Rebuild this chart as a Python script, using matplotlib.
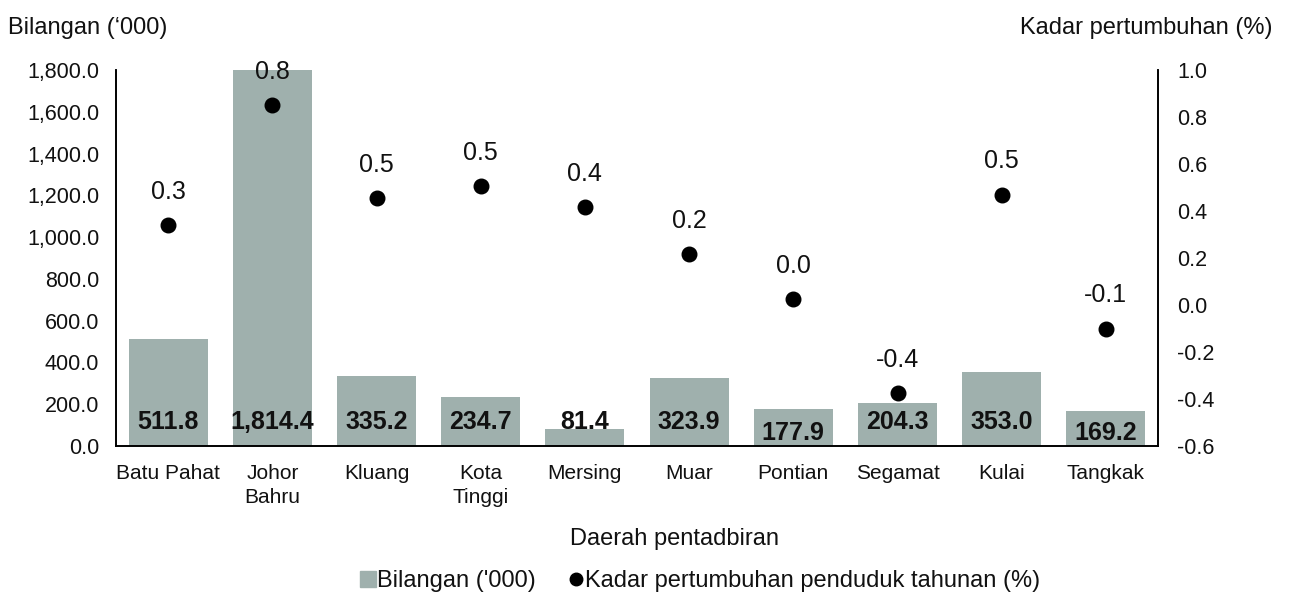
import matplotlib
matplotlib.use("Agg")
import matplotlib.pyplot as plt
from matplotlib.lines import Line2D

plt.rcParams['font.family'] = ['Liberation Sans', 'DejaVu Sans']

districts = ["Batu Pahat", "Johor\nBahru", "Kluang", "Kota\nTinggi", "Mersing",
             "Muar", "Pontian", "Segamat", "Kulai", "Tangkak"]
population = [511.8, 1814.4, 335.2, 234.7, 81.4, 323.9, 177.9, 204.3, 353.0, 169.2]
growth = [0.34, 0.85, 0.455, 0.505, 0.415, 0.215, 0.025, -0.375, 0.47, -0.10]
growth_labels = ["0.3", "0.8", "0.5", "0.5", "0.4", "0.2", "0.0", "-0.4", "0.5", "-0.1"]
left_ticks = [0, 200, 400, 600, 800, 1000, 1200, 1400, 1600, 1800]
right_ticks = [-0.6, -0.4, -0.2, 0.0, 0.2, 0.4, 0.6, 0.8, 1.0]

bar_color = "#9fb0ad"
text_color = "#111111"

fig = plt.figure(figsize=(12.9, 5.99), dpi=100)
ax = fig.add_axes([116/1290, 1-446/599, (1158-116)/1290, (446-70)/599])
ax2 = ax.twinx()

x = list(range(len(districts)))
ax.bar(x, population, width=0.76, color=bar_color, zorder=1)
ax.set_ylim(0, 1800)
ax.set_xlim(-0.5, len(districts) - 0.5)
ax.set_yticks(left_ticks)
ax.set_yticklabels([f"{v:,.1f}" for v in left_ticks])
ax.set_xticks(x)
ax.set_xticklabels(districts, linespacing=1.3)
ax.tick_params(axis='y', length=0, pad=12, labelsize=15.5, labelcolor=text_color)
ax.tick_params(axis='x', length=0, pad=13, labelsize=15, labelcolor=text_color)

for i, v in enumerate(population):
    ypos = 62 if districts[i] in ("Pontian", "Tangkak") else 114
    ax.text(i, ypos, f"{v:,.1f}", ha='center', va='center', fontsize=18,
            fontweight='bold', color=text_color, zorder=3)

ax2.scatter(x, growth, s=110, color='black', zorder=4)
ax2.set_ylim(-0.6, 1.0)
ax2.set_yticks(right_ticks)
ax2.set_yticklabels([f"{v:.1f}" for v in right_ticks])
ax2.tick_params(axis='y', length=0, pad=14, labelsize=15.5, labelcolor=text_color)
for i, (g, lab) in enumerate(zip(growth, growth_labels)):
    ax2.annotate(lab, (i, g), xytext=(0, 24), textcoords='offset points',
                 ha='center', va='center', fontsize=18, color=text_color,
                 annotation_clip=False)

for a in (ax, ax2):
    a.spines['top'].set_visible(False)
    for s in ('left', 'right', 'bottom'):
        a.spines[s].set_linewidth(1.2)
        a.spines[s].set_color('black')

fig.text(8/1290, 1-28/599, "Bilangan (‘000)", ha='left', va='center', fontsize=17, color=text_color)
fig.text(1273/1290, 1-28/599, "Kadar pertumbuhan (%)", ha='right', va='center', fontsize=17, color=text_color)
fig.text(675/1290, 1-539/599, "Daerah pentadbiran", ha='center', va='center', fontsize=17, color=text_color)

handles = [Line2D([], [], marker='s', linestyle='none', color=bar_color, markersize=11),
           Line2D([], [], marker='o', linestyle='none', color='black', markersize=9)]
leg = fig.legend(handles, ["Bilangan ('000)", "Kadar pertumbuhan penduduk tahunan (%)"],
                 loc='center', bbox_to_anchor=(700/1290, 1-581/599), ncol=2, frameon=False,
                 fontsize=17, handletextpad=0.05, columnspacing=1.35, handlelength=0.7)
for t in leg.get_texts():
    t.set_color(text_color)

fig.savefig("out.png", dpi=100)
